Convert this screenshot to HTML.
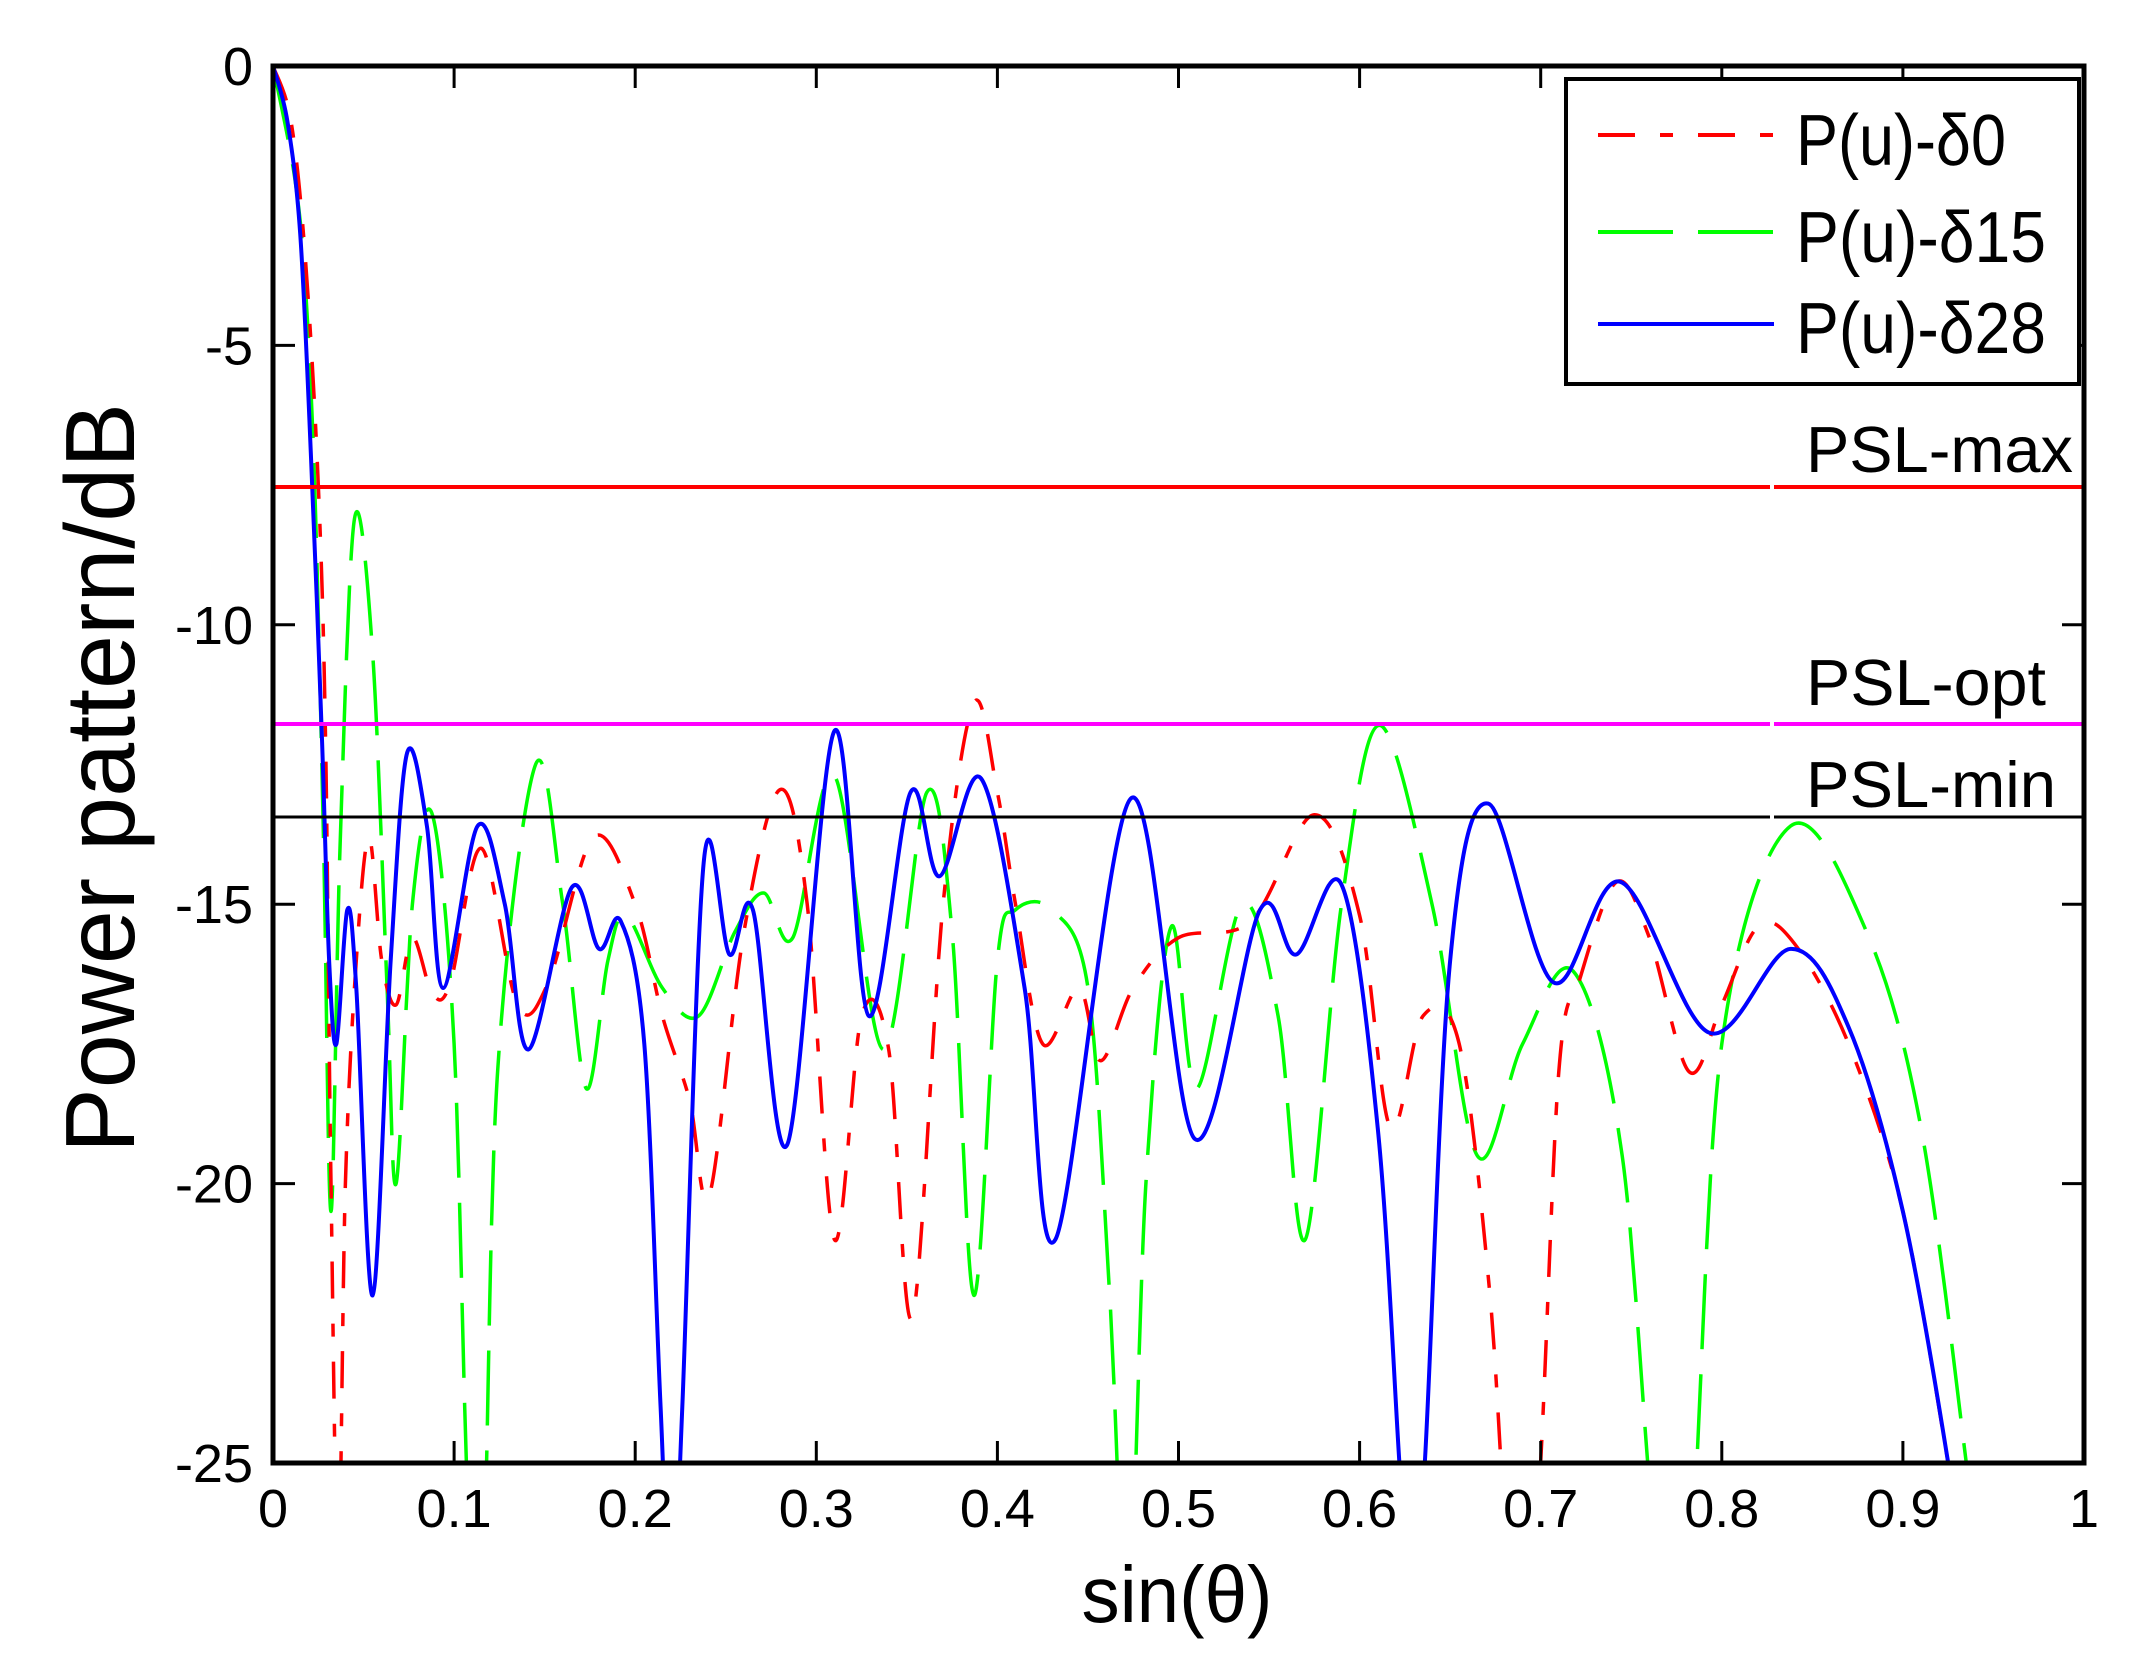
<!DOCTYPE html>
<html><head><meta charset="utf-8"><style>
html,body{margin:0;padding:0;background:#fff;}
svg{display:block;}
text{font-family:"Liberation Sans",Arial,sans-serif;fill:#000;}
</style></head><body>
<svg id="s" width="2135" height="1656" viewBox="0 0 2135 1656" xmlns="http://www.w3.org/2000/svg">
<defs><clipPath id="c"><rect x="273" y="66" width="1811" height="1397"/></clipPath></defs>
<rect width="2135" height="1656" fill="#fff"/>
<g id="curves" clip-path="url(#c)"></g>
<line x1="273" y1="487" x2="2084" y2="487" stroke="#f00" stroke-width="4"/>
<line x1="273" y1="724" x2="2084" y2="724" stroke="#f0f" stroke-width="4"/>
<line x1="273" y1="817" x2="2084" y2="817" stroke="#000" stroke-width="3"/>
<rect x="1770" y="470" width="4" height="360" fill="#fff"/>
<g id="ticks" stroke="#000" stroke-width="3"></g>
<rect x="273" y="66" width="1811" height="1397" fill="none" stroke="#000" stroke-width="5"/>
<rect x="1566" y="79" width="513" height="305" fill="#fff" stroke="#000" stroke-width="4"/>
<line x1="1598" y1="135" x2="1774" y2="135" stroke="#f00" stroke-width="4" stroke-dasharray="37,25,13,25"/>
<line x1="1598" y1="232" x2="1774" y2="232" stroke="#0f0" stroke-width="4" stroke-dasharray="75,25"/>
<line x1="1598" y1="324" x2="1774" y2="324" stroke="#00f" stroke-width="4"/>
<text x="1796" y="165" font-size="72" textLength="210" lengthAdjust="spacingAndGlyphs">P(u)-δ0</text>
<text x="1796" y="262" font-size="72" textLength="250" lengthAdjust="spacingAndGlyphs">P(u)-δ15</text>
<text x="1796" y="353" font-size="72" textLength="250" lengthAdjust="spacingAndGlyphs">P(u)-δ28</text>
<text x="1806" y="472" font-size="65" textLength="267" lengthAdjust="spacingAndGlyphs">PSL-max</text>
<text x="1806" y="705" font-size="65" textLength="240" lengthAdjust="spacingAndGlyphs">PSL-opt</text>
<text x="1806" y="807" font-size="65" textLength="250" lengthAdjust="spacingAndGlyphs">PSL-min</text>
<g id="labels"></g>
<text transform="translate(134,778) rotate(-90)" text-anchor="middle" font-size="98" textLength="750" lengthAdjust="spacingAndGlyphs">Power pattern/dB</text>
<text x="1177" y="1622" text-anchor="middle" font-size="80" textLength="191" lengthAdjust="spacingAndGlyphs">sin(θ)</text>
</svg>
<script>
var L=273,R=2084,T=66,B=1463,W=R-L,H=B-T;
function X(u){return L+u*W;}function Y(d){return T-d*H/25;}
var NS="http://www.w3.org/2000/svg";
function el(n,a,p){var e=document.createElementNS(NS,n);for(var k in a)e.setAttribute(k,a[k]);p.appendChild(e);return e;}
function path(pts){
 var P=pts.map(function(p){return [X(p[0]),Y(p[1])];});
 var d="M"+P[0][0].toFixed(1)+","+P[0][1].toFixed(1);
 for(var i=0;i<P.length-1;i++){
  var p0=P[Math.max(i-1,0)],p1=P[i],p2=P[i+1],p3=P[Math.min(i+2,P.length-1)];
  var c1=[p1[0]+(p2[0]-p0[0])/6,p1[1]+(p2[1]-p0[1])/6];
  var c2=[p2[0]-(p3[0]-p1[0])/6,p2[1]-(p3[1]-p1[1])/6];
  d+="C"+c1[0].toFixed(1)+","+c1[1].toFixed(1)+" "+c2[0].toFixed(1)+","+c2[1].toFixed(1)+" "+p2[0].toFixed(1)+","+p2[1].toFixed(1);
 }
 return d;
}
var red=[[0,0],[0.01,-1],[0.018,-3.5],[0.025,-7.5],[0.029,-12],[0.032,-20],[0.036,-27],[0.04,-20],[0.046,-16],[0.053,-13.8],[0.06,-16],[0.068,-16.8],[0.077,-15.6],[0.088,-16.6],[0.098,-16.4],[0.115,-14],[0.135,-16.8],[0.152,-16.4],[0.177,-13.8],[0.2,-15],[0.215,-17],[0.23,-18.5],[0.241,-20.2],[0.26,-15.5],[0.28,-12.95],[0.295,-15],[0.31,-21],[0.325,-17],[0.34,-17.6],[0.353,-22.4],[0.37,-15],[0.387,-11.4],[0.4,-13],[0.41,-15],[0.425,-17.5],[0.445,-16.5],[0.457,-17.8],[0.475,-16.5],[0.5,-15.6],[0.54,-15.3],[0.575,-13.4],[0.6,-15.2],[0.617,-19],[0.635,-17],[0.655,-17.5],[0.672,-22],[0.685,-28],[0.698,-26],[0.71,-18],[0.722,-16.3],[0.742,-14.6],[0.76,-15.6],[0.782,-18],[0.8,-16.8],[0.82,-15.4],[0.84,-15.7],[0.87,-17.5],[0.9,-20.5],[0.925,-25],[0.935,-27]];
var green=[[0,0],[0.012,-2],[0.018,-4],[0.023,-7.5],[0.028,-14],[0.032,-20.5],[0.037,-14],[0.045,-8.1],[0.055,-10.5],[0.063,-16.5],[0.068,-20],[0.077,-15],[0.088,-13.4],[0.1,-17.5],[0.108,-26],[0.116,-27],[0.124,-18],[0.145,-12.5],[0.16,-15],[0.173,-18.3],[0.185,-16],[0.195,-15.2],[0.215,-16.5],[0.235,-17],[0.255,-15.5],[0.271,-14.8],[0.287,-15.6],[0.31,-12.7],[0.337,-17.6],[0.361,-13],[0.375,-15.5],[0.387,-22],[0.4,-16],[0.41,-15.1],[0.43,-15.1],[0.45,-16.5],[0.462,-22],[0.472,-28],[0.482,-20],[0.496,-15.4],[0.51,-18.3],[0.535,-15],[0.555,-17],[0.57,-21],[0.59,-15],[0.611,-11.8],[0.64,-15],[0.665,-19.5],[0.69,-17.5],[0.718,-16.2],[0.745,-19.5],[0.765,-27],[0.782,-27],[0.8,-17.5],[0.838,-13.6],[0.88,-15.5],[0.91,-19],[0.935,-25],[0.945,-28]];
var blue=[[0,0],[0.008,-1],[0.015,-3],[0.021,-7],[0.027,-12],[0.031,-16],[0.035,-17.5],[0.041,-15.1],[0.046,-16.5],[0.055,-22],[0.065,-16],[0.074,-12.3],[0.085,-13.6],[0.094,-16.5],[0.113,-13.6],[0.128,-15],[0.141,-17.6],[0.165,-14.7],[0.18,-15.8],[0.192,-15.3],[0.205,-17.5],[0.214,-24],[0.22,-28],[0.226,-24],[0.238,-14.2],[0.252,-15.9],[0.265,-15.1],[0.284,-19.3],[0.31,-11.9],[0.329,-17],[0.352,-13],[0.368,-14.5],[0.391,-12.75],[0.415,-16.5],[0.432,-21],[0.474,-13.1],[0.509,-19.2],[0.545,-15.1],[0.565,-15.9],[0.59,-14.65],[0.61,-19],[0.622,-25],[0.628,-28],[0.636,-25],[0.65,-16],[0.671,-13.2],[0.707,-16.4],[0.744,-14.6],[0.793,-17.3],[0.838,-15.8],[0.87,-17.2],[0.9,-20.5],[0.925,-25],[0.932,-27]];
var g=document.getElementById("curves");
el("path",{d:path(green),fill:"none",stroke:"#0f0","stroke-width":3.5,"stroke-dasharray":"75,25"},g);
el("path",{d:path(red),fill:"none",stroke:"#f00","stroke-width":3.5,"stroke-dasharray":"37,25,13,25"},g);
el("path",{d:path(blue),fill:"none",stroke:"#00f","stroke-width":4},g);
var tk=document.getElementById("ticks"),lb=document.getElementById("labels");
for(var i=0;i<=10;i++){var x=X(i/10);
 el("line",{x1:x,y1:B,x2:x,y2:B-22},tk);el("line",{x1:x,y1:T,x2:x,y2:T+22},tk);
 var t=el("text",{x:x,y:1527,"text-anchor":"middle","font-size":54},lb);t.textContent=(i==0?"0":i==10?"1":"0."+i);}
for(var d=0;d>=-25;d-=5){var y=Y(d);
 el("line",{x1:L,y1:y,x2:L+22,y2:y},tk);el("line",{x1:R,y1:y,x2:R-22,y2:y},tk);
 var t=el("text",{x:253,y:y+19,"text-anchor":"end","font-size":54},lb);t.textContent=""+d;}
</script>
</body></html>
